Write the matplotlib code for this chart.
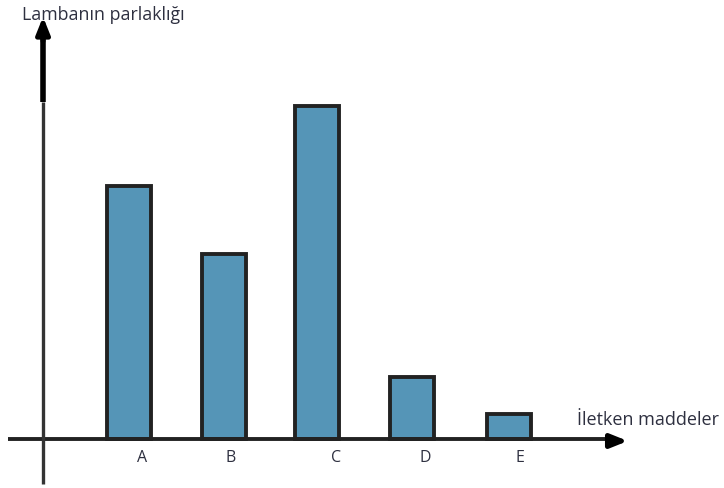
import matplotlib
matplotlib.use("Agg")
import matplotlib.pyplot as plt

# data
categories = ["A", "B", "C", "D", "E"]
brightness = [5.06, 3.70, 6.66, 1.24, 0.50]
positions = [0.0, 1.0, 1.98, 2.98, 4.0]

bar_color = "#5595b7"
edge_color = "#222222"
text_color = "#2e3040"

plt.rcParams['font.family'] = ['Open Sans', 'DejaVu Sans']

fig = plt.figure(figsize=(7.24, 4.89), dpi=100)
ax = fig.add_axes([0, 0, 1, 1])
ax.set_xlim(-1.358, 6.263)
ax.set_ylim(-0.98, 8.8)
ax.axis('off')

# bars
ax.bar(positions, brightness, width=0.47, color=bar_color,
       edgecolor=edge_color, linewidth=2.8, zorder=3)

# category labels (slightly right of bar centers, as in the original)
label_shift = [0.14, 0.07, 0.2, 0.14, 0.11]
for p, s, c in zip(positions, label_shift, categories):
    ax.text(p + s, -0.37, c, ha='center', va='center', fontsize=11.5,
            color=text_color)

# x axis with arrow
ax.plot([-1.274, 5.10], [0, 0], color=edge_color, lw=2.8, zorder=4,
        solid_capstyle='butt')
ax.annotate("", xy=(5.28, -0.04), xytext=(5.05, -0.04),
            arrowprops=dict(arrowstyle="-|>,head_length=1.0,head_width=0.4",
                            color="black", lw=3.5), zorder=5)

# y axis: thin lower part, thicker upper part with arrow
ax.plot([-0.905, -0.905], [-0.9, 6.74], color="#333333", lw=2.4,
        zorder=4, solid_capstyle='butt')
ax.plot([-0.905, -0.905], [6.74, 8.0], color="black", lw=4.0,
        zorder=4, solid_capstyle='butt')
ax.annotate("", xy=(-0.905, 8.5), xytext=(-0.905, 7.9),
            arrowprops=dict(arrowstyle="-|>,head_length=1.0,head_width=0.4",
                            color="black", lw=3.5), zorder=5)

ax.text(-1.13, 8.5, "Lambanın parlaklığı", ha='left', va='center',
        fontsize=12.8, color=text_color)
ax.text(4.72, 0.4, "İletken maddeler", ha='left', va='center',
        fontsize=13, color=text_color)

fig.savefig("out.png", dpi=100)
